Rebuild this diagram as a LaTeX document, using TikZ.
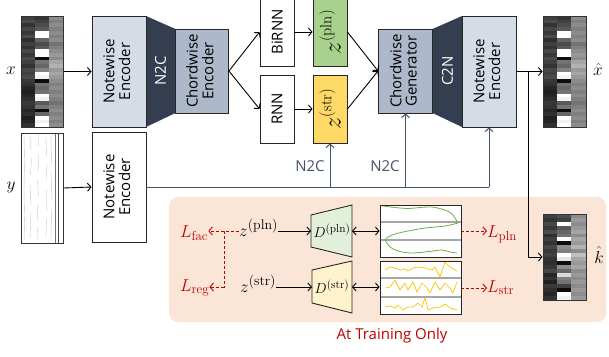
\documentclass[tikz,border=0pt]{standalone}
\usepackage{fontspec}
\newfontfamily\uifont{Open Sans}
\usetikzlibrary{arrows.meta}
\definecolor{boxlight}{HTML}{D6DCE5}
\definecolor{boxmid}{HTML}{ADB9CA}
\definecolor{trapdark}{HTML}{333F50}
\definecolor{slate}{HTML}{44546A}
\definecolor{zgreen}{HTML}{A9D18E}
\definecolor{zyellow}{HTML}{FFD966}
\definecolor{pinkbg}{HTML}{FBE5D6}
\definecolor{dgreen}{HTML}{E2F0D9}
\definecolor{dyellow}{HTML}{FFF2CC}
\definecolor{lossred}{HTML}{C00000}
\definecolor{curvegreen}{HTML}{70AD47}
\definecolor{curveorange}{HTML}{FFC000}
\newcommand{\myroll}[4]{%
  \foreach \a/\b/\c [count=\i from 0] in {#4} {
    \fill[black!\a] (#1,{#2+\i*#3}) rectangle ++(14,#3);
    \fill[black!\b] ({#1+14},{#2+\i*#3}) rectangle ++(14,#3);
    \fill[black!\c] ({#1+28},{#2+\i*#3}) rectangle ++(14.5,#3);
  }%
}
\newcommand{\supx}[1]{^{\mbox{\fontsize{14}{14}\selectfont(#1)}}}
\newcommand{\subx}[1]{_{\mbox{\fontsize{13}{13}\selectfont #1}}}
\begin{document}
\begin{tikzpicture}[x=1pt,y=-1pt,
  blk/.style={draw=black!85, line width=0.9pt, inner sep=0pt,
    font=\uifont\fontsize{15}{15}\selectfont},
  imgframe/.style={draw=black!80, line width=1pt, inner sep=0pt},
  arr/.style={-{Straight Barb[length=3.5pt,width=8pt]}, line width=0.9pt},
  darr/.style={{Straight Barb[length=3.5pt,width=8pt]}-{Straight Barb[length=3.5pt,width=8pt]}, line width=0.9pt},
  sarr/.style={-{Straight Barb[length=3.5pt,width=8pt]}, line width=1pt, draw=slate},
  rarr/.style={-{Straight Barb[length=3.5pt,width=8pt]}, line width=0.9pt, draw=lossred, dashed, dash pattern=on 3pt off 2pt},
  mathlab/.style={inner sep=0pt, font=\fontsize{19}{19}\selectfont},
  uitext/.style={inner sep=0pt, font=\uifont\fontsize{15}{15}\selectfont}
]
\useasboundingbox (0,0) rectangle (609,356);
\clip (0,0) rectangle (609,356);
\fill[white] (0,0) rectangle (609,356);

% ---------- piano roll x ----------
\myroll{21}{16}{3.7}{75/80/45,70/75/50,80/70/45,72/65/50,78/0/45,70/0/50,82/60/45,75/70/55,80/65/50,72/0/45,78/0/40,70/95/45,75/55/35,80/60/30,72/50/40,75/0/35,70/5/40,78/95/45,80/55/50,85/60/45,88/55/50,85/0/45,82/5/50,78/65/55,80/55/50,85/95/45,82/60/50,88/0/45,85/5/50,80/0/45}
\node[imgframe, minimum width=42pt, minimum height=111pt] (ximg) at (42,71.5) {};
% ---------- piano roll x hat ----------
\myroll{543}{16}{3.7}{75/80/45,70/75/50,80/70/45,72/65/50,78/0/45,70/0/50,82/60/45,75/70/55,80/65/50,72/0/45,78/0/40,70/95/45,75/55/35,80/60/30,72/50/40,75/0/35,70/5/40,78/95/45,80/55/50,85/60/45,88/55/50,85/0/45,82/5/50,78/65/55,80/55/50,85/95/45,82/60/50,88/0/45,85/5/50,80/0/45}
\node[imgframe, minimum width=43pt, minimum height=111pt] (xhat) at (564.5,71.5) {};

% ---------- y image ----------
\node[imgframe, fill=white, minimum width=42pt, minimum height=110pt] (yimg) at (42,188) {};
\begin{scope}[line width=0.4pt, black!22]
\draw (24,134) -- (24.5,160) -- (24,190) -- (24.6,220) -- (24,242);
\draw (30,136) -- (31,150) (31.5,158) -- (30.5,175) (30,185) -- (31,205) (31,212) -- (30,238);
\draw (38,134) -- (38.5,146) (39,154) -- (38,172) (37.5,180) -- (38.5,196) (38,204) -- (37,222) (37.5,228) -- (38,240);
\draw (46,138) -- (46.5,156) (47,164) -- (46,180) (46,190) -- (47,210) (46.5,218) -- (46,236);
\draw (51,135) -- (51.5,165) (51,172) -- (52,200) (51.5,208) -- (51,240);
\end{scope}
\draw[black!55, line width=0.6pt] (55.5,133) -- (55.5,243);
\draw[black!70, line width=0.7pt] (58.5,133) -- (58.5,243);
\node[imgframe, minimum width=42pt, minimum height=110pt] at (42,188) {};

% ---------- trapezoids ----------
\fill[trapdark] (146,16) -- (175.5,29) -- (175.5,113) -- (146,127) -- cycle;
\fill[trapdark] (432.5,29) -- (462,16) -- (462,127) -- (432.5,113) -- cycle;
\node[uitext, text=white] (n2ctext) at (160.5,71) {\rotatebox{90}{N2C}};
\node[uitext, text=white] (c2ntext) at (447.5,71) {\rotatebox{90}{C2N}};

% ---------- boxes ----------
\node[blk, fill=boxlight, minimum width=54pt, minimum height=111pt] (ne1) at (119,71.5)
  {\rotatebox{90}{\begin{tabular}{@{}c@{}}Notewise\\Encoder\end{tabular}}};
\node[blk, fill=boxmid, minimum width=53pt, minimum height=84pt] (ce) at (202,71)
  {\rotatebox{90}{\begin{tabular}{@{}c@{}}Chordwise\\Encoder\end{tabular}}};
\node[blk, fill=white, minimum width=34pt, minimum height=68pt] (birnn) at (277,32)
  {\rotatebox{90}{BiRNN}};
\node[blk, fill=white, minimum width=34pt, minimum height=68pt] (rnn) at (277,109)
  {\rotatebox{90}{RNN}};
\node[blk, fill=zgreen, minimum width=34pt, minimum height=68pt, font=\fontsize{23}{23}\selectfont] (zp) at (330,32)
  {\rotatebox{90}{$z^{\mbox{\fontsize{16}{16}\selectfont(pln)}}$}};
\node[blk, fill=zyellow, minimum width=34pt, minimum height=68pt, font=\fontsize{23}{23}\selectfont] (zs) at (330,109)
  {\rotatebox{90}{$z^{\mbox{\fontsize{16}{16}\selectfont(str)}}$}};
\node[blk, fill=boxmid, minimum width=54pt, minimum height=84pt] (cg) at (405.5,71)
  {\rotatebox{90}{\begin{tabular}{@{}c@{}}Chordwise\\Generator\end{tabular}}};
\node[blk, fill=boxlight, minimum width=54pt, minimum height=111pt] (nd) at (489,71.5)
  {\rotatebox{90}{\begin{tabular}{@{}c@{}}Notewise\\Encoder\end{tabular}}};
\node[blk, fill=white, minimum width=54pt, minimum height=110pt] (ne2) at (119,187)
  {\rotatebox{90}{\begin{tabular}{@{}c@{}}Notewise\\Encoder\end{tabular}}};

% ---------- labels x, y, hats ----------
\node[mathlab] (xlab) at (11,71) {$x$};
\node[mathlab] (ylab) at (11,187) {$y$};
\node[mathlab] (xhatlab) at (598,69) {$\hat{x}$};

% ---------- main connectors ----------
\draw[arr] (ximg.east) -- (ne1.west);
\draw[arr] (yimg.east) -- (ne2.west);
\draw[arr] (ce.east) -- (birnn.west);
\draw[arr] (ce.east) -- (rnn.west);
\draw[arr] (birnn.east) -- (zp.west);
\draw[arr] (rnn.east) -- (zs.west);
\draw[arr] (zp.east) -- (cg.west);
\draw[arr] (zs.east) -- (cg.west);
\draw[arr] (nd.east) -- (xhat.west);

% ---------- N2C slate connectors ----------
\draw[slate, line width=1pt] (ne2.east) -- (nd.south |- ne2.east);
\draw[sarr] (zs.south |- ne2.east) -- (zs.south);
\draw[sarr] (cg.south |- ne2.east) -- (cg.south);
\draw[sarr] (nd.south |- ne2.east) -- (nd.south);
\node[uitext, text=slate] (n2cl1) at (310,166) {N2C};
\node[uitext, text=slate] (n2cl2) at (385,166) {N2C};

% ---------- training region ----------
\fill[pinkbg, rounded corners=9pt] (169,197) rectangle (606,322);
\node[uitext, text=lossred] (train) at (392,336) {At Training Only};

% k hat
\myroll{543}{214}{3.91}{75/70/45,80/75/40,72/0/45,78/65/40,70/60/35,82/55/45,75/0/35,80/95/40,72/45/30,78/50/45,75/0/25,80/10/35,82/95/40,78/45/35,72/60/45,85/15/40,80/50/45,88/55/40,78/75/45,82/95/40,85/0/45,80/5/40}
\node[imgframe, minimum width=43pt, minimum height=86pt] (khat) at (564.5,257) {};
\node[mathlab] (khatlab) at (599,255) {$\hat{k}$};
\coordinate (split) at (528,71);
\draw[line width=0.9pt] (split) -- (split |- khat.west);
\draw[arr] (split |- khat.west) -- (khat.west);

% z labels
\node[mathlab, anchor=base west] (zpl) at (239,236) {$z\supx{pln}$};
\node[mathlab, anchor=base west] (zst) at (240,292) {$z\supx{str}$};
% losses
\node[mathlab, anchor=base west, text=lossred] (lfac) at (180,237) {$L\subx{fac}$};
\node[mathlab, anchor=base west, text=lossred] (lreg) at (180,291) {$L\subx{reg}$};
\node[mathlab, anchor=base west, text=lossred] (lpln) at (487,237) {$L\subx{pln}$};
\node[mathlab, anchor=base west, text=lossred] (lstr) at (487,292) {$L\subx{str}$};

% decoders
\draw[fill=dgreen, line width=0.9pt, draw=black!85] (311,215) -- (352,205) -- (352,257) -- (311,247) -- cycle;
\draw[fill=dyellow, line width=0.9pt, draw=black!85] (312,270) -- (352,261) -- (352,313) -- (312,303) -- cycle;
\coordinate (dpW) at (311,231);
\coordinate (dpE) at (352,231);
\coordinate (dsW) at (312,287);
\coordinate (dsE) at (352,287);
\node[inner sep=0pt, font=\fontsize{15}{15}\selectfont] (dpl) at (332,231) {$D^{\mbox{\fontsize{11.5}{11.5}\selectfont(pln)}}$};
\node[inner sep=0pt, font=\fontsize{15}{15}\selectfont] (dst) at (332,287) {$D^{\mbox{\fontsize{11.5}{11.5}\selectfont(str)}}$};

% plots
\node[draw=black!85, line width=0.9pt, fill=white, minimum width=81pt, minimum height=52pt, inner sep=0pt] (ppln) at (420.5,231) {};
\draw[black!35, line width=1.2pt] (380.5,222) -- (460.5,222) (380.5,240) -- (460.5,240);
\draw[curvegreen, line width=0.8pt] plot[smooth] coordinates {(383,206) (395,207.5) (408,208.5) (420,207.5) (432,207) (445,210) (452,214) (458,223)};
\draw[curvegreen, line width=0.8pt] plot[smooth] coordinates {(458,223) (445,226) (425,228) (408,231) (395,234) (388,237) (385,240)};
\draw[curvegreen, line width=0.8pt] plot[smooth] coordinates {(385,240) (390,247) (398,251) (410,253) (425,252) (442,250) (450,252) (457,253)};
\node[draw=black!85, line width=0.9pt, fill=none, minimum width=81pt, minimum height=52pt, inner sep=0pt] at (420.5,231) {};

\node[draw=black!85, line width=0.9pt, fill=white, minimum width=81pt, minimum height=53pt, inner sep=0pt] (pstr) at (420.5,287.5) {};
\draw[black!35, line width=1.2pt] (380.5,278) -- (460.5,278) (380.5,297) -- (460.5,297);
\draw[curveorange, line width=0.7pt] (385,270) -- (390,267) -- (395,268) -- (400,270) -- (405,269) -- (408,271) -- (413,268) -- (418,267) -- (425,268) -- (432,270) -- (435,267) -- (440,277) -- (445,262) -- (450,267) -- (457,271);
\draw[curveorange, line width=0.7pt] (385,288) -- (390,287) -- (395,280) -- (400,290) -- (405,283) -- (408,290) -- (413,282) -- (417,292) -- (422,283) -- (427,288) -- (430,293) -- (435,282) -- (440,290) -- (445,283) -- (450,288) -- (453,293) -- (457,282);
\draw[curveorange, line width=0.7pt] (385,307) -- (390,306) -- (395,308) -- (398,305) -- (403,310) -- (408,307) -- (413,307) -- (418,303) -- (422,307) -- (425,297.5) -- (428,310) -- (433,308) -- (440,307) -- (445,304) -- (450,308) -- (457,310);
\node[draw=black!85, line width=0.9pt, fill=none, minimum width=81pt, minimum height=53pt, inner sep=0pt] at (420.5,287.5) {};

% training connectors
\draw[arr] (zpl.east |- dpW) -- (dpW);
\draw[arr] (zst.east |- dsW) -- (dsW);
\draw[darr] (dpE) -- (ppln.west);
\draw[darr] (dsE) -- (pstr.west |- dsE);
\coordinate (fork) at (224,231);
\draw[lossred, line width=0.9pt, dash pattern=on 3pt off 2pt] (zpl.west |- fork) -- (fork) -- (fork |- lreg.east);
\draw[rarr] (fork) -- (lfac.east |- fork);
\draw[rarr] (fork |- 0,287) -- (lreg.east |- 0,287);
\draw[rarr] (ppln.east) -- (lpln.west |- ppln.east);
\draw[rarr] (pstr.east |- 0,288) -- (lstr.west |- 0,288);
\end{tikzpicture}
\end{document}
